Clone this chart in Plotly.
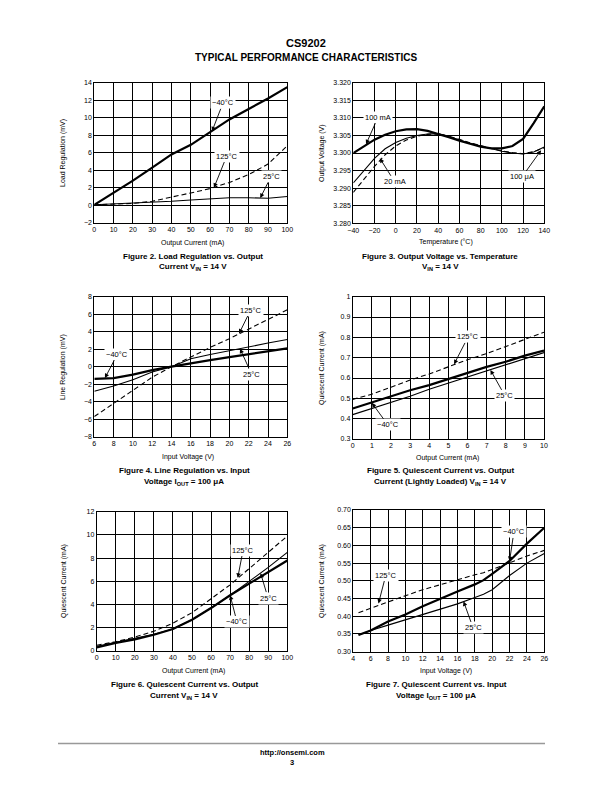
import plotly.graph_objects as go

W, H = 612, 792
OFF = 8  # default page body margin of the browser
FW, FH = W - OFF, H - OFF
FONT = "Liberation Sans, Arial, Helvetica, sans-serif"

# ---------------- Figure 2: Load Regulation vs Output Current ----------------
f2_x = [0, 10, 20, 30, 40, 50, 60, 70, 80, 90, 100]
f2_m40 = [0.05, 1.4, 2.8, 4.3, 5.8, 6.9, 8.3, 9.8, 11.0, 12.2, 13.5]
f2_125 = [0.05, 0.1, 0.2, 0.45, 0.9, 1.4, 1.9, 2.6, 3.5, 4.7, 6.8]
f2_25 = [0.05, 0.15, 0.2, 0.3, 0.45, 0.6, 0.75, 0.85, 0.85, 0.8, 1.0]

# ---------------- Figure 3: Output Voltage vs Temperature ----------------
f3_t = [-40, -30, -20, -10, 0, 10, 20, 30, 40, 50, 60, 70, 80, 90, 100, 110, 120, 130, 140]
f3_100mA = [3.3000, 3.3020, 3.3038, 3.3052, 3.3062, 3.3067, 3.3068, 3.3063, 3.3055, 3.3045,
            3.3035, 3.3027, 3.3018, 3.3013, 3.3013, 3.3020, 3.3040, 3.3085, 3.3133]
f3_100uA = [3.2915, 3.2950, 3.2985, 3.3012, 3.3030, 3.3042, 3.3050, 3.3054, 3.3055, 3.3047,
            3.3037, 3.3028, 3.3020, 3.3012, 3.3005, 3.3000, 3.2997, 3.3003, 3.3017]
f3_20mA = [3.2888, 3.2925, 3.2962, 3.2995, 3.3020, 3.3037, 3.3048, 3.3053, 3.3055, 3.3048,
           3.3038, 3.3029, 3.3021, 3.3013, 3.3006, 3.3001, 3.2998, 3.3004, 3.3015]

# ---------------- Figure 4: Line Regulation vs Input Voltage ----------------
f4_v = [6, 8, 10, 12, 14, 16, 18, 20, 22, 24, 26]
f4_125 = [-5.7, -4.2, -2.7, -1.2, 0.0, 1.1, 2.2, 3.2, 4.3, 5.4, 6.5]
f4_m40 = [-1.4, -1.3, -0.9, -0.4, 0.0, 0.4, 0.75, 1.1, 1.45, 1.75, 2.1]
f4_25 = [-2.8, -2.2, -1.5, -0.6, 0.0, 0.9, 1.4, 1.85, 2.3, 2.7, 3.1]

# ---------------- Figure 5: Quiescent Current vs Output Current (light) ----------------
f5_i = [0, 1, 2, 3, 4, 5, 6, 7, 8, 9, 10]
f5_125 = [0.495, 0.52, 0.555, 0.59, 0.62, 0.655, 0.69, 0.72, 0.755, 0.79, 0.825]
f5_m40 = [0.45, 0.48, 0.51, 0.54, 0.565, 0.595, 0.625, 0.655, 0.68, 0.71, 0.735]
f5_25 = [0.42, 0.45, 0.48, 0.51, 0.545, 0.575, 0.605, 0.635, 0.665, 0.695, 0.725]

# ---------------- Figure 6: Quiescent Current vs Output Current ----------------
f6_i = [0, 10, 20, 30, 40, 50, 60, 70, 80, 90, 100]
f6_125 = [0.5, 0.8, 1.2, 1.7, 2.4, 3.3, 4.5, 5.7, 7.1, 8.5, 9.9]
f6_m40 = [0.3, 0.7, 1.0, 1.4, 1.9, 2.7, 3.7, 4.8, 5.8, 6.8, 7.8]
f6_25 = [0.4, 0.75, 1.1, 1.45, 1.9, 2.7, 3.7, 4.8, 6.0, 7.2, 8.5]

# ---------------- Figure 7: Quiescent Current vs Input Voltage ----------------
f7_v = [4.6, 6, 8, 10, 12, 14, 16, 18, 19, 20, 22, 24, 26]
f7_m40 = [0.347, 0.36, 0.385, 0.405, 0.428, 0.45, 0.47, 0.49, 0.502, 0.52, 0.556, 0.605, 0.65]
f7_25 = [0.347, 0.36, 0.375, 0.39, 0.405, 0.42, 0.435, 0.453, 0.462, 0.475, 0.515, 0.55, 0.577]
f7_125 = [0.41, 0.423, 0.44, 0.458, 0.475, 0.49, 0.503, 0.517, 0.523, 0.532, 0.552, 0.57, 0.586]

THICK = dict(color="black", width=2.2)
THIN = dict(color="black", width=1.1)
DASH = dict(color="black", width=1.1, dash="5px,3px")

fig = go.Figure()


def add(x, y, line, ax):
    fig.add_trace(go.Scatter(x=x, y=y, mode="lines", line=line, xaxis="x" + ax,
                             yaxis="y" + ax, showlegend=False, hoverinfo="skip"))


add(f2_x, f2_125, DASH, "")
add(f2_x, f2_25, THIN, "")
add(f2_x, f2_m40, THICK, "")

add(f3_t, f3_20mA, DASH, "2")
add(f3_t, f3_100uA, THIN, "2")
add(f3_t, f3_100mA, THICK, "2")

add(f4_v, f4_125, DASH, "3")
add(f4_v, f4_25, THIN, "3")
add(f4_v, f4_m40, THICK, "3")

add(f5_i, f5_125, DASH, "4")
add(f5_i, f5_25, THIN, "4")
add(f5_i, f5_m40, THICK, "4")

add(f6_i, f6_125, DASH, "5")
add(f6_i, f6_25, THIN, "5")
add(f6_i, f6_m40, THICK, "5")

add(f7_v, f7_125, DASH, "6")
add(f7_v, f7_25, THIN, "6")
add(f7_v, f7_m40, THICK, "6")


def px2x(px):
    return (px - OFF) / FW


def py2y(py):
    return 1 - (py - OFF) / FH


# plot areas in page pixels: (left, right, top, bottom)
boxes = {
    "": (94.3, 287.3, 82.7, 222.7),
    "2": (353.3, 544.3, 82.7, 223.3),
    "3": (94.3, 287.3, 296.7, 436.7),
    "4": (352.7, 544.0, 296.7, 439.0),
    "5": (96.7, 287.3, 511.7, 651.0),
    "6": (353.3, 544.3, 510.0, 651.7),
}
xr = {"": ([0, 100], 10, None), "2": ([-40, 140], 20, None), "3": ([6, 26], 2, None),
      "4": ([0, 10], 1, None), "5": ([0, 100], 10, None), "6": ([4, 26], 2, None)}
yr = {"": ([-2, 14], 2, None), "2": ([3.28, 3.32], 0.005, ".3f"), "3": ([-8, 8], 2, None),
      "4": ([0.3, 1.0], 0.1, None), "5": ([0, 12], 2, None), "6": ([0.3, 0.7], 0.05, ".2f")}

axis_common = dict(showline=True, mirror=True, linecolor="black", linewidth=1,
                   showgrid=True, gridcolor="black", gridwidth=0.9, zeroline=False,
                   ticks="", tickfont=dict(family=FONT, size=7, color="black"),
                   fixedrange=True)

layout = {}
for k, (l, r, t, b) in boxes.items():
    xa = dict(axis_common)
    xa.update(domain=[px2x(l), px2x(r)], range=xr[k][0], dtick=xr[k][1], tick0=xr[k][0][0],
              anchor="y" + k)
    ya = dict(axis_common)
    ya.update(domain=[py2y(b), py2y(t)], range=yr[k][0], dtick=yr[k][1],
              tick0=yr[k][0][0], anchor="x" + k)
    if yr[k][2]:
        ya["tickformat"] = yr[k][2]
    layout["xaxis" + k] = xa
    layout["yaxis" + k] = ya

fig.update_layout(**layout)

ann = []


def ptext(txt, px, py, size=7, bold=False, angle=0):
    ann.append(dict(text=("<b>%s</b>" % txt) if bold else txt, x=px2x(px), y=py2y(py),
                    xref="paper", yref="paper", showarrow=False, textangle=angle,
                    xanchor="center", yanchor="middle",
                    font=dict(family=FONT, size=size, color="black")))


# header / footer
ptext("CS9202", 306, 43, size=11, bold=True)
ptext("TYPICAL PERFORMANCE CHARACTERISTICS", 306, 57, size=10, bold=True)
ptext("http://onsemi.com", 292, 752, size=7.5, bold=True)
ptext("3", 292, 762, size=7.5, bold=True)

# axis titles
ytitles = [("Load Regulation (mV)", 63, 153), ("Output Voltage (V)", 322, 153),
           ("Line Regulation (mV)", 63, 367), ("Quiescent Current (mA)", 322, 368),
           ("Quiescent Current (mA)", 64, 581), ("Quiescent Current (mA)", 322, 581)]
for t, px, py in ytitles:
    ptext(t, px, py, size=7, angle=-90)
xtitles = [("Output Current (mA)", 192, 243.5), ("Temperature (°C)", 446, 242.5),
           ("Input Voltage (V)", 188, 457), ("Output Current (mA)", 448, 457.5),
           ("Output Current (mA)", 193, 671), ("Input Voltage (V)", 446, 670.5)]
for t, px, py in xtitles:
    ptext(t, px, py, size=7)

# captions
captions = [
    ("Figure 2. Load Regulation vs. Output", "Current V<sub>IN</sub> = 14 V", 193, 256),
    ("Figure 3. Output Voltage vs. Temperature", "V<sub>IN</sub> = 14 V", 440, 256),
    ("Figure 4. Line Regulation vs. Input", "Voltage I<sub>OUT</sub> = 100 μA", 184, 470.5),
    ("Figure 5. Quiescent Current vs. Output", "Current (Lightly Loaded) V<sub>IN</sub> = 14 V", 440, 470.5),
    ("Figure 6. Quiescent Current vs. Output", "Current V<sub>IN</sub> = 14 V", 184, 684.5),
    ("Figure 7. Quiescent Current vs. Input", "Voltage I<sub>OUT</sub> = 100 μA", 436, 684.5),
]
for l1, l2, px, py in captions:
    ptext(l1, px, py, size=8, bold=True)
    ptext(l2, px, py + 11, size=8, bold=True)

# curve labels with arrows (axis suffix, text, text x, text y, head x, head y)
labels = [
    ("", "−40°C", 66.7, 11.7, 61, 8.45),
    ("", "125°C", 68.6, 5.62, 62, 2.0),
    ("", "25°C", 91.6, 3.3, 86, 0.82),
    ("2", "100 mA", -16.7, 3.3102, -28, 3.3025),
    ("2", "20 mA", -1, 3.2918, -15, 3.2985),
    ("2", "100 μA", 119, 3.2932, 137, 3.3008),
    ("3", "125°C", 22.2, 6.48, 21, 3.78),
    ("3", "−40°C", 8.4, 1.43, 7.1, -1.3),
    ("3", "25°C", 22.3, -0.85, 21.1, 2.05),
    ("4", "125°C", 6.03, 0.802, 5.3, 0.668),
    ("4", "25°C", 7.96, 0.512, 7.2, 0.64),
    ("4", "−40°C", 1.84, 0.369, 1.0, 0.478),
    ("5", "125°C", 76.8, 8.7, 74, 6.3),
    ("5", "25°C", 89.9, 4.56, 86, 6.7),
    ("5", "−40°C", 73.6, 2.5, 70, 4.8),
    ("6", "−40°C", 22.5, 0.638, 22, 0.556),
    ("6", "125°C", 7.75, 0.5165, 6.9, 0.436),
    ("6", "25°C", 17.8, 0.367, 16.7, 0.442),
]
for k, t, tx, ty, hx, hy in labels:
    ann.append(dict(text=t, x=hx, y=hy, ax=tx, ay=ty, xref="x" + k, yref="y" + k,
                    axref="x" + k, ayref="y" + k, showarrow=True, arrowhead=2,
                    arrowsize=1, arrowwidth=0.9, arrowcolor="black", bgcolor="white",
                    borderpad=1, font=dict(family=FONT, size=7.5, color="black")))

fig.update_layout(annotations=ann, width=FW, height=FH,
                  margin=dict(l=0, r=0, t=0, b=0, autoexpand=False),
                  paper_bgcolor="white", plot_bgcolor="white",
                  font=dict(family=FONT, color="black"))

# footer rule
fig.add_shape(type="line", xref="paper", yref="paper", x0=px2x(58), x1=px2x(545),
              y0=py2y(743.5), y1=py2y(743.5), line=dict(color="#999999", width=1.5))

fig.write_html("out.html")
